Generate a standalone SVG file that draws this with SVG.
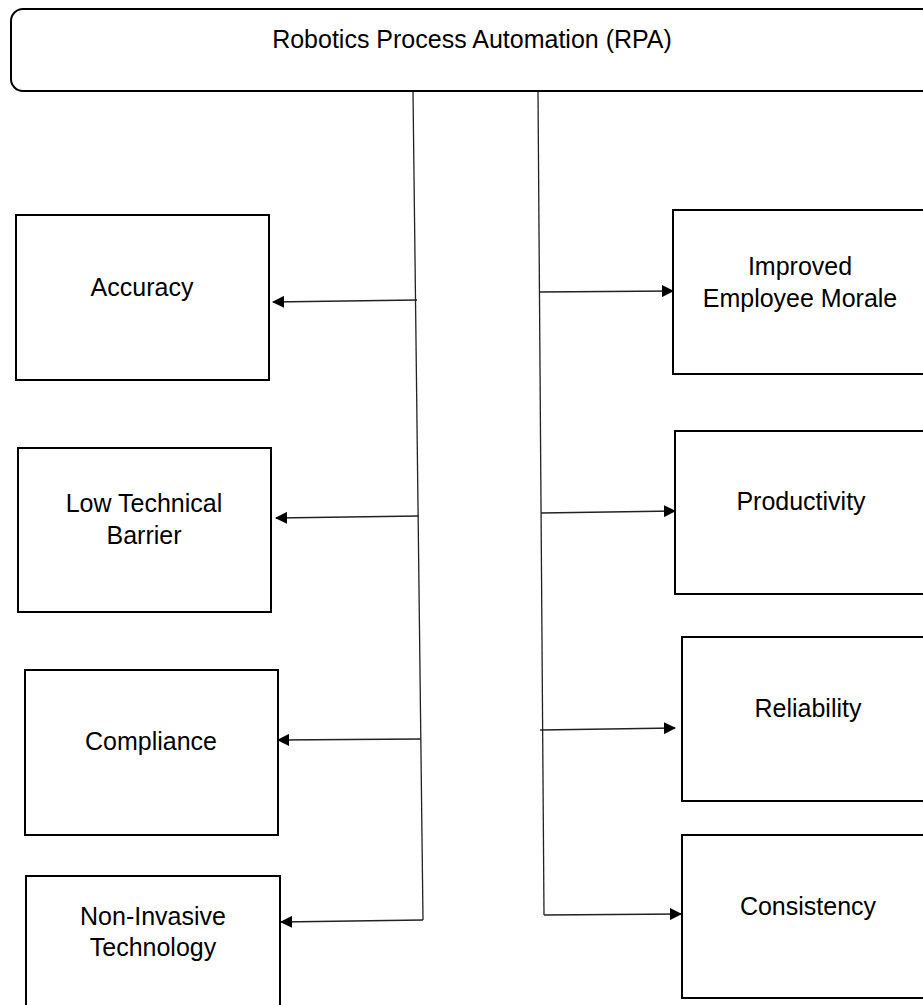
<svg xmlns="http://www.w3.org/2000/svg" width="923" height="1005" viewBox="0 0 923 1005">
<style>
.box{fill:#fff;stroke:#000;stroke-width:2}
.t{font-family:"Liberation Sans",Arial,sans-serif;font-size:25px;fill:#000;text-anchor:middle}
.c{fill:none;stroke:#222;stroke-width:1.3}
</style>
<defs>
<marker id="ah" markerWidth="12" markerHeight="12" refX="11" refY="6" orient="auto" markerUnits="userSpaceOnUse">
<path d="M0,0 L12,6 L0,12 Z" fill="#000"/>
</marker>
</defs>
<rect width="923" height="1005" fill="#fff"/>
<g id="rpa">
<rect class="box" x="11" y="9" width="930" height="82" rx="12"/>
<text class="t" x="472" y="48">Robotics Process Automation (RPA)</text>
</g>
<g id="accuracy">
<rect class="box" x="16" y="215" width="253" height="165"/>
<text class="t" x="142" y="296">Accuracy</text>
</g>
<g id="low-technical-barrier">
<rect class="box" x="18" y="448" width="253" height="164"/>
<text class="t" x="144" y="512">Low Technical</text>
<text class="t" x="144" y="544">Barrier</text>
</g>
<g id="compliance">
<rect class="box" x="25" y="670" width="253" height="165"/>
<text class="t" x="151" y="750">Compliance</text>
</g>
<g id="non-invasive">
<rect class="box" x="26" y="876" width="254" height="140"/>
<text class="t" x="153" y="925">Non-Invasive</text>
<text class="t" x="153" y="956">Technology</text>
</g>
<g id="morale">
<rect class="box" x="673" y="210" width="260" height="164"/>
<text class="t" x="800" y="275">Improved</text>
<text class="t" x="800" y="307">Employee Morale</text>
</g>
<g id="productivity">
<rect class="box" x="675" y="431" width="260" height="163"/>
<text class="t" x="801" y="510">Productivity</text>
</g>
<g id="reliability">
<rect class="box" x="682" y="637" width="260" height="164"/>
<text class="t" x="808" y="717">Reliability</text>
</g>
<g id="consistency">
<rect class="box" x="682" y="835" width="260" height="163"/>
<text class="t" x="808" y="915">Consistency</text>
</g>
<g id="connectors">
<path class="c" d="M413,92 L423,920"/>
<path class="c" d="M538,92 L544,915"/>
<path class="c" d="M417,300 L273,302" marker-end="url(#ah)"/>
<path class="c" d="M419,516 L276,518" marker-end="url(#ah)"/>
<path class="c" d="M421,739 L278,740" marker-end="url(#ah)"/>
<path class="c" d="M423,920 L281,922" marker-end="url(#ah)"/>
<path class="c" d="M539,292 L673,291" marker-end="url(#ah)"/>
<path class="c" d="M541,513 L675,511" marker-end="url(#ah)"/>
<path class="c" d="M540,730 L675,728" marker-end="url(#ah)"/>
<path class="c" d="M544,915 L681,914" marker-end="url(#ah)"/>
</g>
</svg>
